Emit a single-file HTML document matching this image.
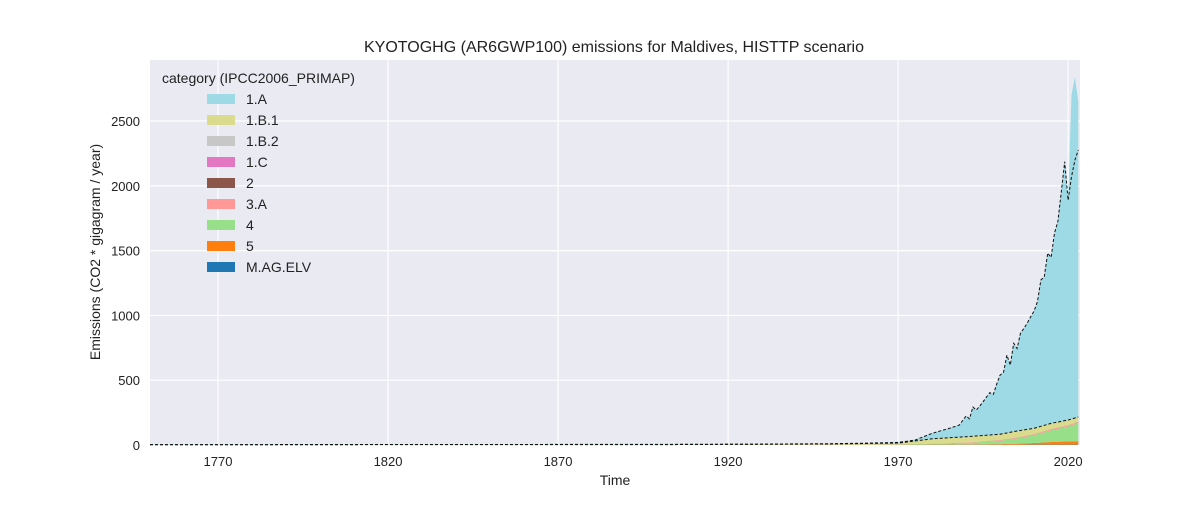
<!DOCTYPE html>
<html><head><meta charset="utf-8"><style>
body{margin:0;background:#fff;font-family:"Liberation Sans",sans-serif;}
</style></head><body>
<svg id="chart" width="1200" height="500" xmlns="http://www.w3.org/2000/svg" font-family="Liberation Sans, sans-serif">
<rect width="1200" height="500" fill="#fff"/>
<rect x="150" y="60" width="930" height="385" fill="#eaeaf2"/>
<g id="grid"></g>
<g id="areas"></g>
<g id="lines"></g>
<g id="axes"></g>
<text x="614" y="52" text-anchor="middle" font-size="16" fill="#222">KYOTOGHG (AR6GWP100) emissions for Maldives, HISTTP scenario</text>
<text x="615" y="485" text-anchor="middle" font-size="14" fill="#222">Time</text>
<text transform="translate(100,252) rotate(-90)" text-anchor="middle" font-size="14" fill="#222">Emissions (CO2 * gigagram / year)</text>
<g id="legend"></g>
</svg>
<script>
const years=[1750,1850,1900,1930,1950,1960,1970,1975,1980,1985,1988,1990,1991,1992,1993,1994,1995,1996,1997,1998,1999,2000,2001,2002,2003,2004,2005,2006,2007,2008,2009,2010,2011,2012,2013,2014,2015,2016,2017,2018,2019,2020,2021,2022,2023];
const energy=[1,1.3,2,2,3,3,5,8,44,73,93,160,136,225,200,228,260,294,327,311,389,457,472,601,519,682,637,752,784,820,865,905,971,1129,1148,1322,1281,1464,1549,1772,1998,1697,2500,2632,2434];
const total=[3,4,5,7,10,14,20,38,90,128,154,224,202,293,270,300,334,370,404,390,470,540,560,694,617,785,745,864,900,941,990,1034,1108,1273,1300,1481,1448,1636,1726,1955,2186,1890,2070,2198,2276];
const minorYears=[1750,1900,1930,1950,1970,1980,1990,2000,2005,2010,2015,2020,2023];
const magelv=[0.5,0.5,0.5,1,1,1.5,2,2,2,3,3,3,3];
const waste=[0.5,0.5,1,1,2,2,3,5,8,12,20,25,25];
const forestry=[0.5,0.5,1,1,3,5,10,25,40,60,90,115,140];
const livestock=[0.3,0.3,0.5,0.5,1,2,3,5,6,7,8,8,9];
const ippu=[0,0,0,0,0,0,0.5,1,1,1,1,1,1];
const co2storage=[0,0,0,0,0,0,0,0,0,0,0,0,0];
const fugitiveOil=[0,0,0,0,0,0,0,0,0,0,0,0,0];
const fugitiveSolid=[0.2,1.2,2.5,4.5,8,37.5,45.5,45,51,46,45,41,38];
const yTicks=[0,500,1000,1500,2000,2500];
const xTicks=[1770,1820,1870,1920,1970,2020];

const NS="http://www.w3.org/2000/svg";
const X0=150,X1=1080,Y0=445,Y1=60,xmin=1750,xmax=2023.5,ymax=2971;
const sx=v=>X0+(v-xmin)/(xmax-xmin)*(X1-X0);
const sy=v=>Y0-v/ymax*(Y0-Y1);
function mk(tag,attrs,parent){const e=document.createElementNS(NS,tag);for(const k in attrs)e.setAttribute(k,attrs[k]);parent.appendChild(e);return e;}
function interp(xs,vs,x){for(let i=0;i<xs.length-1;i++){if(x>=xs[i]&&x<=xs[i+1]){const t=(x-xs[i])/(xs[i+1]-xs[i]);return vs[i]+t*(vs[i+1]-vs[i]);}}return vs[vs.length-1];}
const grid=document.getElementById('grid'),axes=document.getElementById('axes');
yTicks.forEach(t=>{
 const l=mk('line',{x1:X0,x2:X1,y1:sy(t),y2:sy(t),stroke:'#fff','stroke-width':1.2},grid);
 
 const tx=mk('text',{x:140,y:sy(t)+5,'text-anchor':'end','font-size':13,fill:'#222'},axes);tx.textContent=t;
 
});
xTicks.forEach(t=>{
 const l=mk('line',{x1:sx(t),x2:sx(t),y1:Y1,y2:Y0,stroke:'#fff','stroke-width':1.2},grid);
 
 const tx=mk('text',{x:sx(t),y:466,'text-anchor':'middle','font-size':13,fill:'#222'},axes);tx.textContent=t;
 
});
const series=[
 ['M.AG.ELV','#1f77b4',years.map(y=>interp(minorYears,magelv,y))],
 ['5','#ff7f0e',years.map(y=>interp(minorYears,waste,y))],
 ['4','#98df8a',years.map(y=>interp(minorYears,forestry,y))],
 ['3.A','#ff9896',years.map(y=>interp(minorYears,livestock,y))],
 ['2','#8c564b',years.map(y=>interp(minorYears,ippu,y))],
 ['1.C','#e377c2',years.map(y=>interp(minorYears,co2storage,y))],
 ['1.B.2','#c7c7c7',years.map(y=>interp(minorYears,fugitiveOil,y))],
 ['1.B.1','#dbdb8d',years.map(y=>interp(minorYears,fugitiveSolid,y))],
 ['1.A','#9edae5',energy]
];
const areas=document.getElementById('areas'),lines=document.getElementById('lines');
let base=years.map(()=>0);let restTop=null;
series.forEach((s,i)=>{
 const top=base.map((b,j)=>b+s[2][j]);
 let d='M'+years.map((y,j)=>sx(y)+','+sy(top[j])).join('L');
 for(let j=years.length-1;j>=0;j--)d+='L'+sx(years[j])+','+sy(base[j]);
 const p=mk('path',{d:d+'Z',fill:s[1]},areas);
 
 
 if(s[0]==='1.B.1')restTop=top.slice();
 base=top;
});
function dline(vals,name){
 const p=mk('path',{d:'M'+years.map((y,j)=>sx(y)+','+sy(vals[j])).join('L'),fill:'none',stroke:'#111','stroke-width':1,'stroke-dasharray':'3,2'},lines);
 
}
dline(restTop,'non-energy-total-line');
dline(total,'total-line');
const lg=document.getElementById('legend');
const lt=mk('text',{x:162,y:83,'font-size':14,fill:'#222'},lg);lt.textContent='category (IPCC2006_PRIMAP)';

series.slice().reverse().forEach((s,i)=>{
 const y=99+i*21;
 const g=mk('g',{},lg);
 
 mk('rect',{x:207,y:y-5,width:28,height:10,fill:s[1]},g);
 const t=mk('text',{x:246,y:y+5,'font-size':14,fill:'#222'},g);t.textContent=s[0];
});
</script>
</body></html>
